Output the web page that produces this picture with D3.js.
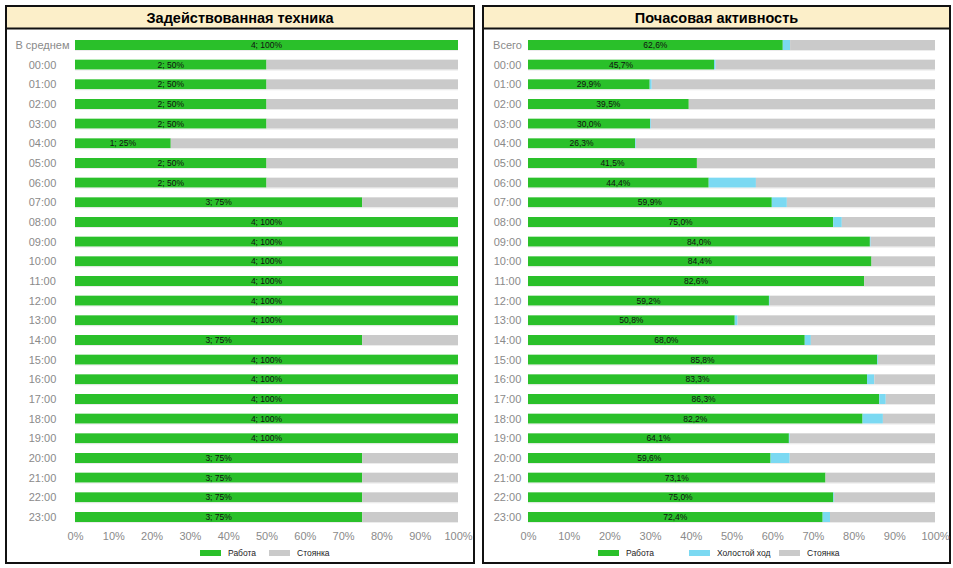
<!DOCTYPE html>
<html>
<head>
<meta charset="utf-8">
<script src="https://cdn.jsdelivr.net/npm/d3@7"></script>
<style>
  body { margin: 0; background: #fff; }
  svg { font-family: "Liberation Sans", Arial, sans-serif; }
</style>
</head>
<body>
<svg id="chart" width="953" height="568"></svg>
<script>
// categories
var hours = ["00:00","01:00","02:00","03:00","04:00","05:00","06:00","07:00","08:00","09:00","10:00","11:00",
             "12:00","13:00","14:00","15:00","16:00","17:00","18:00","19:00","20:00","21:00","22:00","23:00"];
var leftCats = ["В среднем"].concat(hours);
var rightCats = ["Всего"].concat(hours);
var xTicks = [0,10,20,30,40,50,60,70,80,90,100];

// left panel: machines in use (of 4)
var machineTotal = 4;
var machinesUsed = [4, 2,2,2,2,1,2,2,3,4,4,4,4,4,4,3,4,4,4,4,4,3,3,3,3];

// right panel: hourly activity, %
var workPct = [62.6, 45.7,29.9,39.5,30.0,26.3,41.5,44.4,59.9,75.0,84.0,84.4,82.6,
               59.2,50.8,68.0,85.8,83.3,86.3,82.2,64.1,59.6,73.1,75.0,72.4];
var idlePct = [1.8, 0.4,0.5,0,0.2,0.2,0,11.6,3.7,2.1,0.2,0,0,
               0.2,0.7,1.5,0.2,1.8,1.6,5.0,0.2,4.7,0,0.2,1.8];

var C_WORK = "#2ac02a", C_IDLE = "#7bd9f2", C_STOP = "#cacaca";

var svg = d3.select("#chart");

function panel(opt) {
  var g = svg.append("g");
  g.append("rect").attr("x", opt.x0 + 1).attr("y", 6).attr("width", opt.x1 - opt.x0 - 2).attr("height", 557)
    .attr("fill", "#fff").attr("stroke", "#111").attr("stroke-width", 2);
  g.append("rect").attr("x", opt.x0 + 2).attr("y", 7).attr("width", opt.x1 - opt.x0 - 4).attr("height", 21)
    .attr("fill", "#fcefc9");
  g.append("line").attr("x1", opt.x0 + 1).attr("x2", opt.x1 - 1).attr("y1", 28.5).attr("y2", 28.5)
    .attr("stroke", "#111").attr("stroke-width", 2);
  g.append("text").attr("x", (opt.x0 + opt.x1) / 2).attr("y", 22.5).attr("text-anchor", "middle")
    .attr("font-size", 14.5).attr("font-weight", "bold").attr("fill", "#000").text(opt.title);

  var x = d3.scaleLinear().domain([0, 100]).range([opt.left, opt.right]);
  var y = d3.scalePoint().domain(opt.cats).range([45, 517]);
  var bh = 10;

  opt.cats.forEach(function(c, i) {
    var segs = opt.segs[i];
    var acc = 0;
    segs.forEach(function(s) {
      if (s.v > 0) {
        g.append("rect").attr("x", x(acc)).attr("y", y(c) - bh / 2)
          .attr("width", x(acc + s.v) - x(acc)).attr("height", bh).attr("fill", s.c);
      }
      acc += s.v;
    });
    g.append("line").attr("x1", x(0)).attr("x2", x(100)).attr("y1", y(c) + bh / 2 + 0.5).attr("y2", y(c) + bh / 2 + 0.5)
      .attr("stroke", "#ececec").attr("stroke-width", 1);
    g.append("text").attr("x", opt.labelX).attr("y", y(c) + 4).attr("text-anchor", "middle")
      .attr("font-size", 11).attr("fill", "#8a8a8a").text(c);
    g.append("text").attr("x", x(segs[0].v / 2)).attr("y", y(c) + 3).attr("text-anchor", "middle")
      .attr("font-size", 8.5).attr("fill", "#111").text(opt.labels[i]);
  });

  var axis = d3.axisBottom(x).tickValues(xTicks).tickSize(0).tickPadding(0)
    .tickFormat(function(d) { return d + "%"; });
  var ag = g.append("g").attr("transform", "translate(0,532)").call(axis);
  ag.select(".domain").remove();
  ag.selectAll("text").attr("font-size", 11).attr("fill", "#8a8a8a")
    .attr("font-family", "Liberation Sans, Arial, sans-serif");

  opt.legend.forEach(function(l) {
    g.append("rect").attr("x", l.x).attr("y", 550).attr("width", 21).attr("height", 6).attr("fill", l.c);
    g.append("text").attr("x", l.x + 28).attr("y", 556).attr("font-size", 8.5).attr("fill", "#222").text(l.t);
  });
}

panel({
  x0: 5, x1: 475, left: 75, right: 458, labelX: 42.5,
  title: "Задействованная техника",
  cats: leftCats,
  segs: machinesUsed.map(function(m) {
    var p = m / machineTotal * 100;
    return [{v: p, c: C_WORK}, {v: 100 - p, c: C_STOP}];
  }),
  labels: machinesUsed.map(function(m) { return m + "; " + (m / machineTotal * 100) + "%"; }),
  legend: [{x: 200, c: C_WORK, t: "Работа"}, {x: 269, c: C_STOP, t: "Стоянка"}]
});

panel({
  x0: 482, x1: 951, left: 528, right: 935, labelX: 507.5,
  title: "Почасовая активность",
  cats: rightCats,
  segs: workPct.map(function(w, i) {
    return [{v: w, c: C_WORK}, {v: idlePct[i], c: C_IDLE}, {v: 100 - w - idlePct[i], c: C_STOP}];
  }),
  labels: workPct.map(function(w) { return w.toFixed(1).replace(".", ",") + "%"; }),
  legend: [{x: 598, c: C_WORK, t: "Работа"}, {x: 689, c: C_IDLE, t: "Холостой ход"}, {x: 779, c: C_STOP, t: "Стоянка"}]
});
</script>
</body>
</html>
